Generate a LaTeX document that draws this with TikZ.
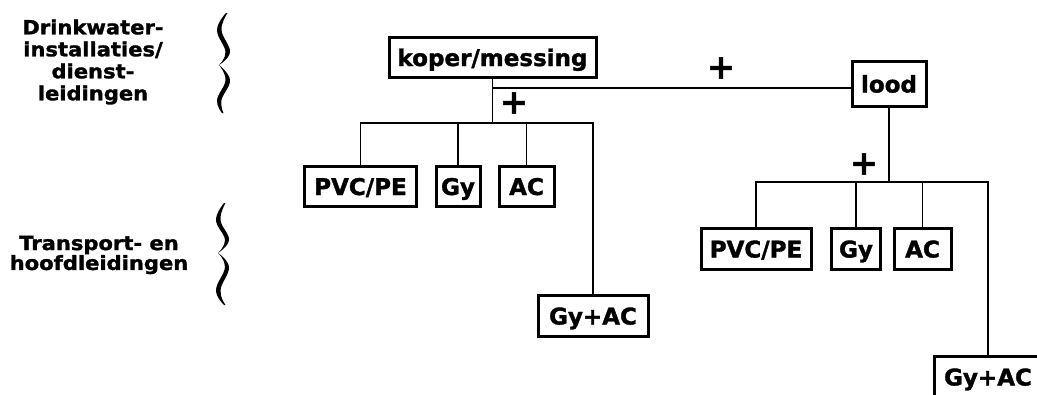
\documentclass[tikz,border=0pt]{standalone}
\usepackage{fontspec}
\setmainfont{DejaVu Sans}
\newfontfamily\hvbox[FakeBold=1.5]{DejaVu Sans Bold}
\newfontfamily\hvlbl[FakeBold=1.5, FakeStretch=1.08]{DejaVu Sans Bold}
\begin{document}
\begin{tikzpicture}[x=1pt,y=-1pt,
  box/.style={draw, line width=3pt, font=\hvbox\fontsize{23}{24}\selectfont, minimum height=40pt, inner sep=0pt, text height=18pt, text depth=0pt},
  conn/.style={line width=1.8pt},
  plus/.style={font=\hvbox\fontsize{34}{34}\selectfont, inner sep=0pt},
  lblA/.style={font=\hvlbl\fontsize{19.5}{22}\selectfont, align=center, inner sep=0pt},
  lblB/.style={font=\hvlbl\fontsize{19.5}{18.5}\selectfont, align=center, inner sep=0pt},
  brace/.style={fill=black}]
\useasboundingbox (0,0) rectangle (1037,394);
\clip (0,0) rectangle (1037,394);

% labels on the left
\node[lblA] (t1) at (93,62) {Drinkwater-\\installaties/\\dienst-\\leidingen};
\node[lblB] (t2) at (99,255) {Transport- en\\hoofdleidingen};

% braces
\fill[brace] plot[smooth, tension=0.7] coordinates {(226,13) (217,30) (225.5,52) (219,65)}
  -- plot[smooth, tension=0.7] coordinates {(219,65) (230,52) (221.5,30) (227.5,13)} -- cycle;
\fill[brace] plot[smooth, tension=0.7] coordinates {(219,65) (225.5,80) (217,100) (222,113)}
  -- plot[smooth, tension=0.7] coordinates {(223.5,113) (221.5,100) (230,80) (219,65)} -- cycle;
\fill[brace] plot[smooth, tension=0.7] coordinates {(224,203) (216,220) (225,240) (218,253)}
  -- plot[smooth, tension=0.7] coordinates {(218,253) (229,240) (220.5,220) (225.5,203)} -- cycle;
\fill[brace] plot[smooth, tension=0.7] coordinates {(218,253) (225,267) (216,290) (224,305)}
  -- plot[smooth, tension=0.7] coordinates {(225.5,305) (220.5,290) (229,267) (218,253)} -- cycle;

% boxes
\node[box, minimum width=207pt] (kop) at (492.5,57) {koper/messing};
\node[box, minimum width=74pt, minimum height=45pt] (lood) at (889,83.5) {lood};
\node[box, minimum width=112pt] (lpvc) at (360.5,186) {PVC/PE};
\node[box, minimum width=44pt] (lgy) at (458,186) {Gy};
\node[box, minimum width=55pt] (lac) at (526.5,186) {AC};
\node[box, minimum width=110pt, minimum height=41pt] (lgyac) at (593,315.5) {Gy+AC};
\node[box, minimum width=110pt, minimum height=41pt] (rpvc) at (756,248.5) {PVC/PE};
\node[box, minimum width=49pt, minimum height=41pt] (rgy) at (856,248.5) {Gy};
\node[box, minimum width=57pt, minimum height=41pt] (rac) at (922.5,248.5) {AC};
\node[box, minimum width=108pt, minimum height=41pt] (rgyac) at (988,376.5) {Gy+AC};

% plus signs
\node[plus] (p1) at (721,68) {+};
\node[plus] (p2) at (514,103) {+};
\node[plus] (p3) at (864,164) {+};

% connectors, left tree
\coordinate (j0) at (492.5,88);
\coordinate (j1) at (492.5,123);
\draw[conn] (kop.south) -- (j1);
\draw[conn] (j0) -- (j0 -| lood.west);
\draw[conn] (lpvc.north) |- (lgyac.north |- j1) -- (lgyac.north);
\draw[conn] (lgy.north) -- (lgy.north |- j1);
\draw[conn] (lac.north) -- (lac.north |- j1);

% connectors, right tree
\coordinate (j2) at (889,182);
\draw[conn] (lood.south) -- (j2);
\draw[conn] (rpvc.north) |- (rgyac.north |- j2) -- (rgyac.north);
\draw[conn] (rgy.north) -- (rgy.north |- j2);
\draw[conn] (rac.north) -- (rac.north |- j2);
\end{tikzpicture}
\end{document}
